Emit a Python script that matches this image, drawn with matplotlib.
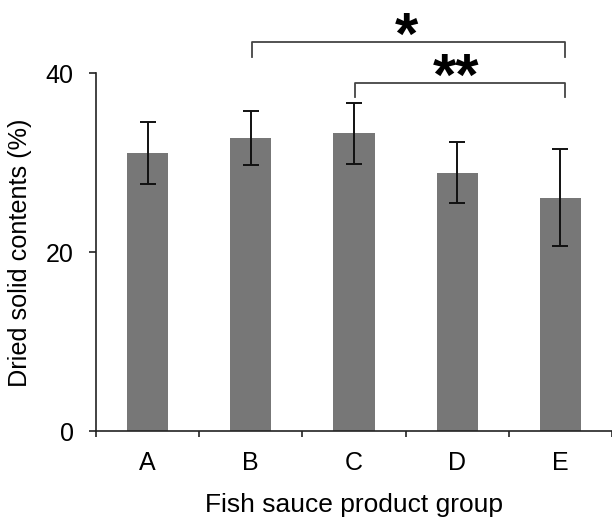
import matplotlib
matplotlib.use("Agg")
import matplotlib.pyplot as plt
import numpy as np

plt.rcParams['font.family'] = ['Liberation Sans', 'DejaVu Sans']

groups = ["A", "B", "C", "D", "E"]
means = [31.1, 32.8, 33.3, 28.9, 26.1]
errors = [3.5, 3.0, 3.4, 3.4, 5.4]
yticks = [0, 20, 40]

# significance brackets: (left index, right index, bracket height, drop height, label)
brackets = [(1, 4, 43.5, 41.8, "*"), (2, 4, 38.9, 37.3, "**")]

fig = plt.figure(figsize=(6.12, 5.32), dpi=100)
ax = fig.add_axes([96/612, 1-431.3/532, 1-96/612, (431.3-73.3)/532])

x = np.arange(len(groups))
ax.bar(x, means, width=0.4, color="#777777", zorder=2)
ax.errorbar(x, means, yerr=errors, fmt="none", ecolor="#111111", elinewidth=1.4,
            capsize=5.5, capthick=1.4, zorder=3)

ax.set_xlim(-0.5, (612-148.5)/104.9)
ax.set_ylim(0, 40)
ax.set_yticks(yticks)
ax.set_yticklabels([str(v) for v in yticks])
ax.set_xticks(x)
ax.set_xticklabels(groups)
ax.set_xticks(np.arange(-0.5, len(groups), 1.0), minor=True)

for s in ["top", "right"]:
    ax.spines[s].set_visible(False)
for s in ["left", "bottom"]:
    ax.spines[s].set_linewidth(1.2)
    ax.spines[s].set_color("#222222")

ax.tick_params(axis="y", direction="out", length=5, width=1.2, color="#222222",
               labelsize=18, pad=11)
ax.tick_params(axis="x", which="major", length=0, labelsize=18, pad=14)
ax.tick_params(axis="x", which="minor", direction="out", length=4.5, width=1.2, color="#222222")

ax.set_xlabel("Fish sauce product group", fontsize=19, labelpad=13)
ax.set_ylabel("Dried solid contents (%)", fontsize=18.2, labelpad=10)

star_x = [2.51, 2.99]
for (i0, i1, yb, yd, lab), sx in zip(brackets, star_x):
    xl = x[i0] + 0.01
    xr = x[i1] + 0.04
    ax.plot([xl, xl, xr, xr], [yd, yb, yb, yd], color="#444444", lw=1.3,
            clip_on=False, zorder=4)
    ax.text(sx, yb - 1.3, lab, ha="center", va="baseline",
            fontsize=43, fontweight="bold", clip_on=False, color="black")

fig.savefig("out.png", dpi=100)
